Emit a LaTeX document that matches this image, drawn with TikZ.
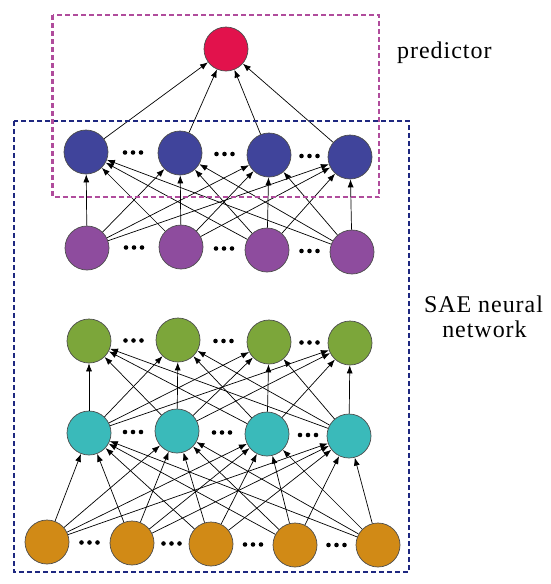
\documentclass[tikz,border=0pt]{standalone}
\usepackage{fontspec}
\setmainfont{Liberation Serif}
\newfontfamily\lblfont[LetterSpace=4]{Liberation Serif}
\usetikzlibrary{arrows.meta,calc}
\definecolor{cred}{RGB}{226,18,76}
\definecolor{cblue}{RGB}{64,68,155}
\definecolor{cpurple}{RGB}{142,76,158}
\definecolor{cgreen}{RGB}{124,166,58}
\definecolor{cteal}{RGB}{58,186,186}
\definecolor{corange}{RGB}{209,138,22}
\definecolor{cmagbox}{RGB}{176,76,156}
\definecolor{cbluebox}{RGB}{30,40,128}
\begin{document}
\begin{tikzpicture}[x=1pt,y=-1pt,
  neuron/.style={circle,draw=black!70,line width=0.7pt,minimum size=44pt,inner sep=0pt},
  conn/.style={line width=0.7pt,-{Latex[length=8pt,width=6pt]}},
  lbl/.style={font=\lblfont\fontsize{24}{25}\selectfont,inner sep=0pt},
  boxline/.style={line width=2.2pt,dash pattern=on 5pt off 3pt}]
\useasboundingbox (0,0) rectangle (550,584);

% layers
\node[neuron,fill=cred] (r) at (226,49) {};

\node[neuron,fill=cblue] (b1) at (86,152) {};
\node[neuron,fill=cblue] (b2) at (180,153) {};
\node[neuron,fill=cblue] (b3) at (269,155) {};
\node[neuron,fill=cblue] (b4) at (350,157) {};

\node[neuron,fill=cpurple] (p1) at (87,248) {};
\node[neuron,fill=cpurple] (p2) at (181,247) {};
\node[neuron,fill=cpurple] (p3) at (267,250) {};
\node[neuron,fill=cpurple] (p4) at (352,252) {};

\node[neuron,fill=cgreen] (g1) at (89,341) {};
\node[neuron,fill=cgreen] (g2) at (178,340) {};
\node[neuron,fill=cgreen] (g3) at (269,342) {};
\node[neuron,fill=cgreen] (g4) at (350,343) {};

\node[neuron,fill=cteal] (t1) at (89,433) {};
\node[neuron,fill=cteal] (t2) at (177,431) {};
\node[neuron,fill=cteal] (t3) at (267,434) {};
\node[neuron,fill=cteal] (t4) at (349,436) {};

\node[neuron,fill=corange] (o1) at (47,542) {};
\node[neuron,fill=corange] (o2) at (132,543) {};
\node[neuron,fill=corange] (o3) at (211,544) {};
\node[neuron,fill=corange] (o4) at (295,545) {};
\node[neuron,fill=corange] (o5) at (378,545) {};

% connections
\foreach \s in {b1,b2,b3,b4} \draw[conn] (\s) -- (r);
\foreach \s in {p1,p2,p3,p4} \foreach \t in {b1,b2,b3,b4} \draw[conn] (\s) -- (\t);
\foreach \s in {t1,t2,t3,t4} \foreach \t in {g1,g2,g3,g4} \draw[conn] (\s) -- (\t);
\foreach \s in {o1,o2,o3,o4,o5} \foreach \t in {t1,t2,t3,t4} \draw[conn] (\s) -- (\t);

% ellipsis dots
\foreach \a/\b in {b1/b2,b2/b3,b3/b4,p1/p2,p2/p3,p3/p4,g1/g2,g2/g3,g3/g4,t1/t2,t2/t3,t3/t4,o1/o2,o2/o3,o3/o4,o4/o5}{
  \coordinate (m) at ($(\a)!0.5!(\b)$);
  \foreach \dx in {-8,0,8} \fill ($(m)+(\dx,0)$) circle (2.3pt);
}

% dashed boxes
\draw[boxline,draw=cbluebox] (14,121) rectangle (409,572);
\draw[boxline,draw=cmagbox] (52.5,15) rectangle (379,197);

% labels
\node[lbl,anchor=base west] (predlbl) at (397,58) {predictor};
\node[lbl,anchor=base] (saelbl) at (483.5,312) {SAE neural};
\node[lbl,anchor=base] (netlbl) at (484.5,337) {network};
\end{tikzpicture}
\end{document}
